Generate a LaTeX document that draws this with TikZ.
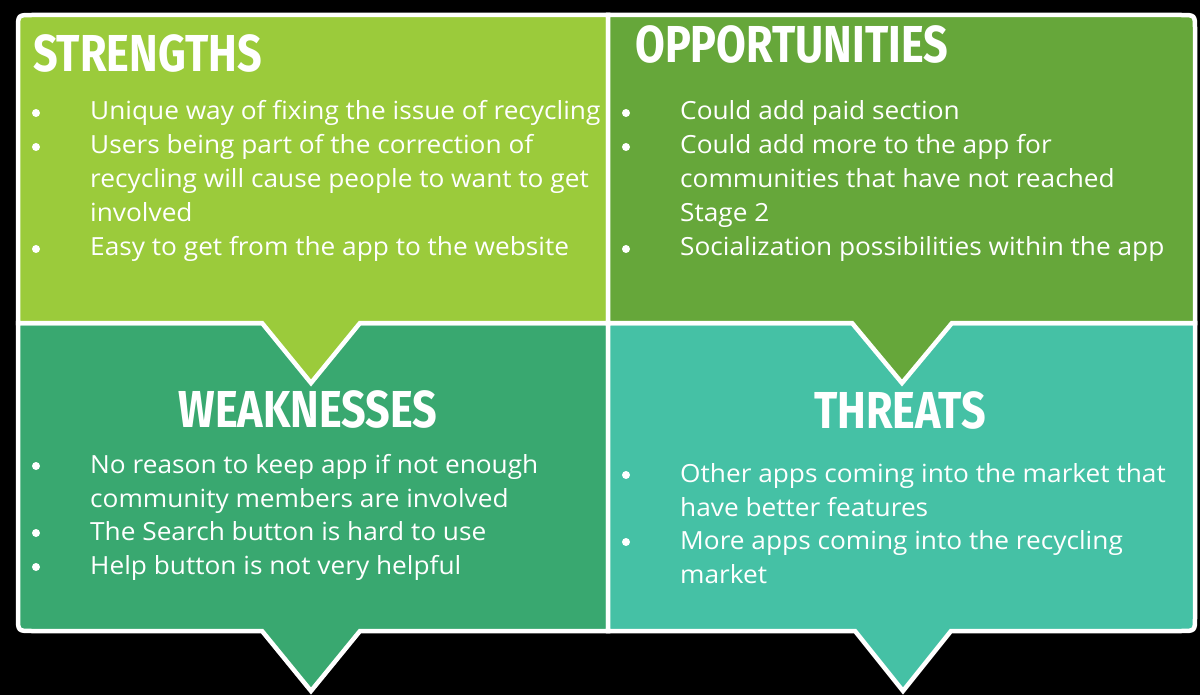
\documentclass[tikz,border=0pt]{standalone}
\usepackage{fontspec}
\setmainfont{Open Sans}[FakeStretch=1.05]
\newfontfamily\titlefont{Fira Sans}[FakeStretch=0.83]
\definecolor{strcol}{HTML}{9BCB3B}
\definecolor{oppcol}{HTML}{66A73A}
\definecolor{weakcol}{HTML}{39A870}
\definecolor{thrcol}{HTML}{45C1A5}
\tikzset{
  quad/.style={draw=white, line width=4.5pt},
  ttl/.style={text=white, inner sep=0pt, font=\titlefont\bfseries\fontsize{52}{52}\selectfont},
  body/.style={text=white, inner sep=0pt, anchor=base west, font=\fontsize{25}{34}\selectfont},
  bul/.style={circle, fill=white, inner sep=0pt, minimum size=8pt}
}
\begin{document}
\begin{tikzpicture}[x=1pt, y=-1pt]
\useasboundingbox (0,0) rectangle (1200,695);
\fill[black] (0,0) rectangle (1200,695);

% lower quadrants first, so the upper pointers lie on top of them
\draw[quad, fill=weakcol] (18,323) -- (608,323) -- (608,631) -- (360,631) -- (311,691)
  -- (262,631) -- (32,631) .. controls (18,631) .. (18,617) -- cycle;
\draw[quad, fill=thrcol] (608,323) -- (1195,323) -- (1195,617) .. controls (1195,631) .. (1181,631)
  -- (951,631) -- (903,691) -- (855,631) -- (608,631) -- cycle;
\draw[quad, fill=strcol] (18,323) -- (18,29) .. controls (18,15) .. (32,15) -- (608,15)
  -- (608,323) -- (360,323) -- (311,383) -- (262,323) -- cycle;
\draw[quad, fill=oppcol] (608,15) -- (1181,15) .. controls (1195,15) .. (1195,29) -- (1195,323)
  -- (952,323) -- (902,383) -- (852,323) -- (608,323) -- cycle;

% headings
\node[ttl, anchor=base west] (tS) at (33,72) {STRENGTHS};
\node[ttl, anchor=base west] (tO) at (635,63) {OPPORTUNITIES};
\node[ttl, anchor=base] (tW) at (308,427) {WEAKNESSES};
\node[ttl, anchor=base] (tT) at (900,428) {THREATS};

% bullet lines: x / baseline / bullet? / text
\foreach \x/\y/\b/\t [count=\i] in {
  90/120/1/Unique way of fixing the issue of recycling,
  90/154/1/Users being part of the correction of,
  90/188/0/recycling will cause people to want to get,
  90/222/0/involved,
  90/256/1/Easy to get from the app to the website,
  680/120/1/Could add paid section,
  680/154/1/Could add more to the app for,
  680/188/0/communities that have not reached,
  680/222/0/Stage 2,
  680/256/1/Socialization possibilities within the app,
  90/473/1/No reason to keep app if not enough,
  90/507/0/community members are involved,
  90/540/1/The Search button is hard to use,
  90/574/1/Help button is not very helpful,
  680/482/1/Other apps coming into the market that,
  680/516/0/have better features,
  680/549/1/More apps coming into the recycling,
  680/583/0/market}
{
  \node[body, name=line\i] at (\x,\y) {\t};
  \ifnum\b=1
    \node[bul, name=dot\i] at (\x-54,\y-7) {};
  \fi
}
\end{tikzpicture}
\end{document}
